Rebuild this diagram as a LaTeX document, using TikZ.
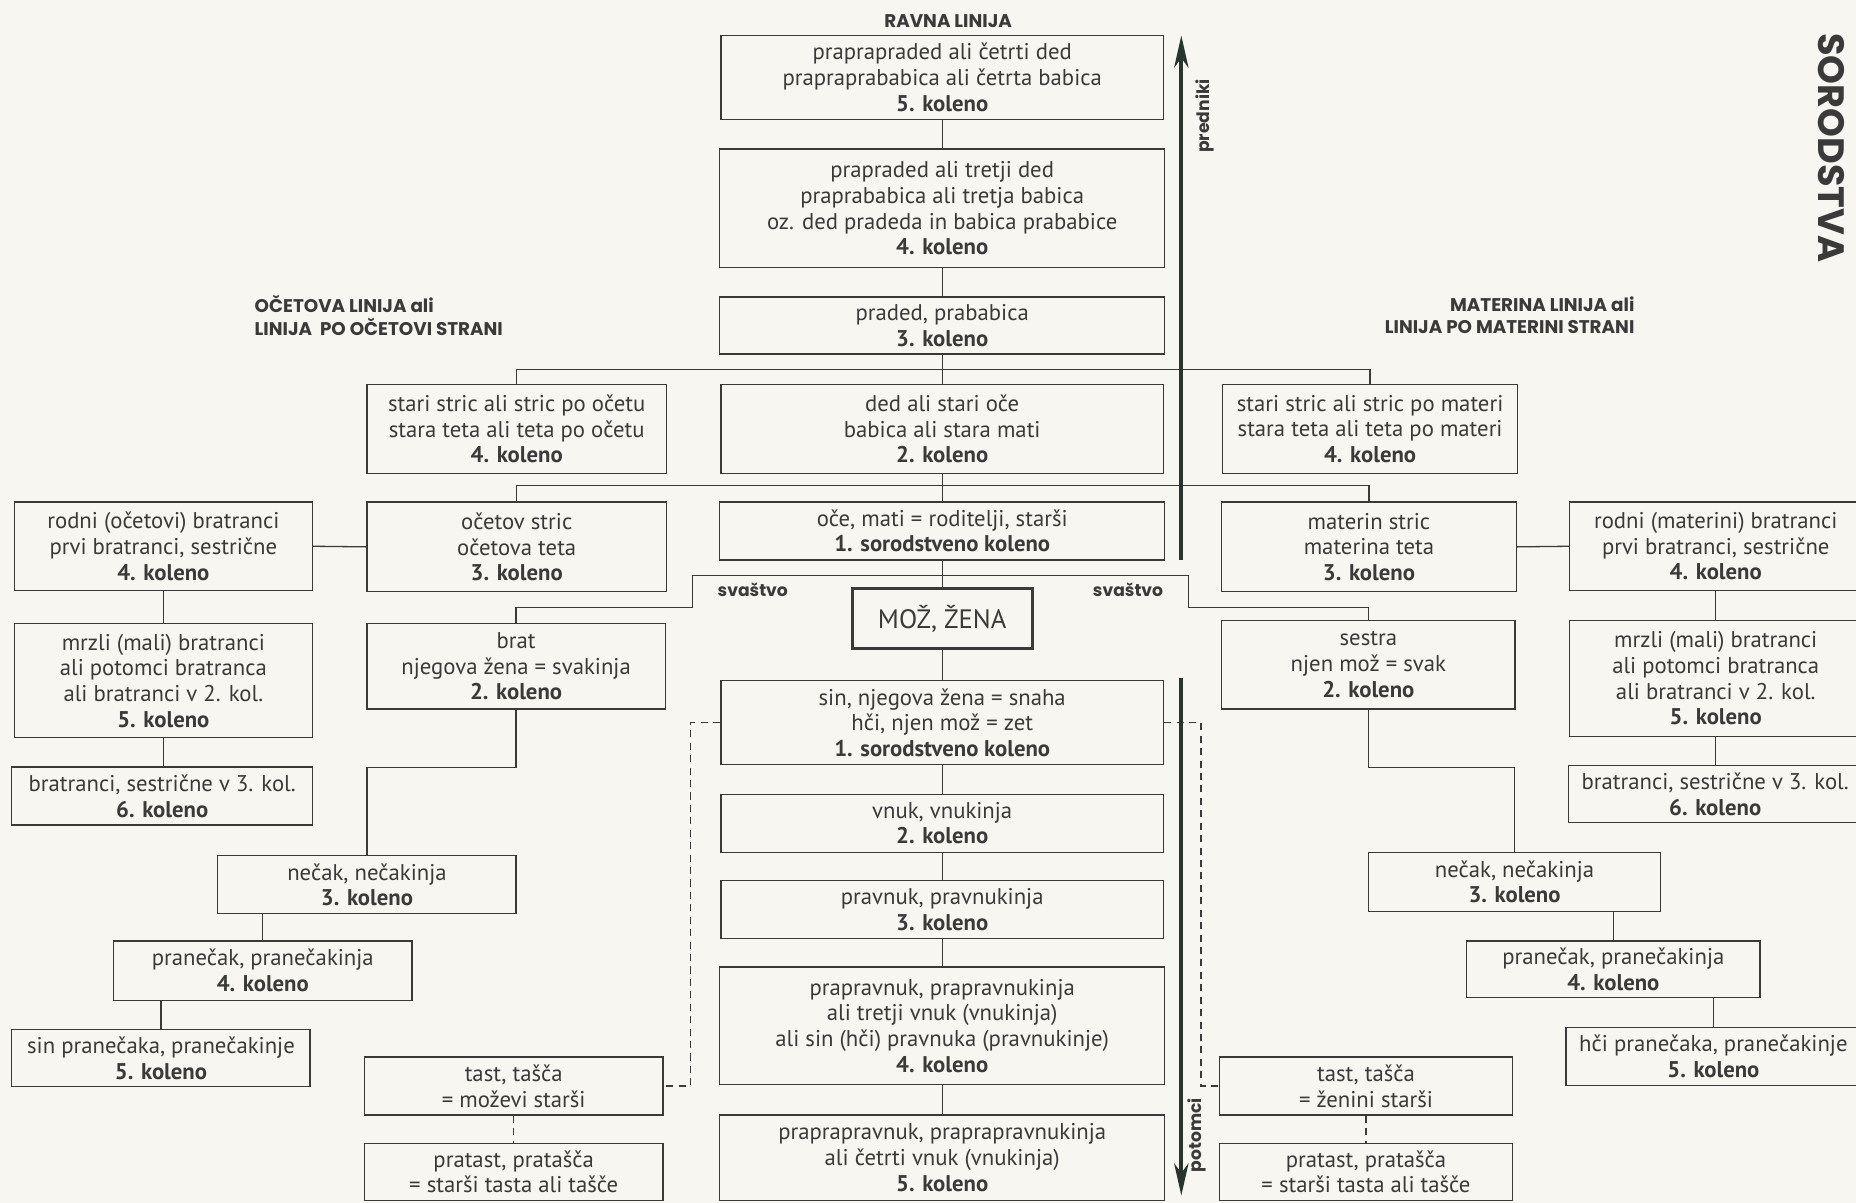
\documentclass[tikz,border=0pt]{standalone}
\usepackage{fontspec}
\setmainfont{PT Sans}
\newfontfamily\hdfont{Poppins}
\usetikzlibrary{arrows.meta}
\definecolor{bg}{HTML}{F7F6F0}
\definecolor{ink}{HTML}{3A3A3A}
\definecolor{arr}{HTML}{26352D}
\tikzset{
 kbox/.style={draw=ink, line width=1.1pt, inner sep=0pt, align=center, text=ink, font=\fontsize{19.2}{21.7}\selectfont},
 conn/.style={draw=ink, line width=1.1pt},
 dconn/.style={draw=ink, line width=1.1pt, dash pattern=on 6pt off 4.5pt},
 hd/.style={text=ink, font=\hdfont\bfseries\fontsize{15.5}{18}\selectfont, inner sep=0pt},
 sv/.style={text=ink, font=\hdfont\bfseries\fontsize{14.5}{16}\selectfont, inner sep=0pt},
 ttl/.style={text=ink, font=\hdfont\bfseries\fontsize{31}{34}\selectfont, inner sep=0pt},
 bigarr/.style={draw=arr, line width=3.6pt, -{Stealth[length=27pt,width=12pt,inset=8pt]}},
}
\newcommand\kb[6]{\node[kbox, minimum width={(#4)-(#2)}, minimum height={(#5)-(#3)}] (#1) at ({((#2)+(#4))/2},{((#3)+(#5))/2}) {#6};}
\begin{document}
\begin{tikzpicture}[x=1pt,y=-1pt]
\fill[bg] (0,0) rectangle (1568,1016);
\useasboundingbox (0,0) rectangle (1568,1016);
\clip (0,0) rectangle (1568,1016);

% central column
\kb{A5}{609}{30}{983}{101}{praprapraded ali četrti ded\\prapraprababica ali četrta babica\\\textbf{5. koleno}}
\kb{A4}{608}{126}{984}{226}{prapraded ali tretji ded\\praprababica ali tretja babica\\oz. ded pradeda in babica prababice\\\textbf{4. koleno}}
\kb{A3}{608}{251}{984}{299}{praded, prababica\\\textbf{3. koleno}}
\kb{A2}{609}{325}{983}{400}{ded ali stari oče\\babica ali stara mati\\\textbf{2. koleno}}
\kb{A1}{608}{424}{984}{473}{oče, mati = roditelji, starši\\\textbf{1. sorodstveno koleno}}
\node[kbox, line width=2.6pt, font=\fontsize{22.5}{24}\selectfont, minimum width=152, minimum height=51] (MZ) at (796,522.5) {MOŽ, ŽENA};
\kb{D1}{609}{575}{983}{646}{sin, njegova žena = snaha\\hči, njen mož = zet\\\textbf{1. sorodstveno koleno}}
\kb{D2}{609}{671}{983}{720}{vnuk, vnukinja\\\textbf{2. koleno}}
\kb{D3}{609}{744}{983}{793}{pravnuk, pravnukinja\\\textbf{3. koleno}}
\kb{D4}{608}{817}{984}{916}{prapravnuk, prapravnukinja\\ali tretji vnuk (vnukinja)\\ali sin (hči) pravnuka (pravnukinje)\\\textbf{4. koleno}}
\kb{D5}{608}{942}{984}{1014}{praprapravnuk, praprapravnukinja\\ali četrti vnuk (vnukinja)\\\textbf{5. koleno}}

% father's side
\kb{Lstric}{310}{325}{563}{400}{stari stric ali stric po očetu\\stara teta ali teta po očetu\\\textbf{4. koleno}}
\kb{Loce}{310}{424}{563}{500}{očetov stric\\očetova teta\\\textbf{3. koleno}}
\kb{brat}{310}{527}{562}{599}{brat\\njegova žena = svakinja\\\textbf{2. koleno}}
\kb{LL1}{12}{424}{264}{499}{rodni (očetovi) bratranci\\prvi bratranci, sestrične\\\textbf{4. koleno}}
\kb{LL2}{12}{527}{264}{623}{mrzli (mali) bratranci\\ali potomci bratranca\\ali bratranci v 2. kol.\\\textbf{5. koleno}}
\kb{LL3}{10}{648}{264}{697}{bratranci, sestrične v 3. kol.\\\textbf{6. koleno}}
\kb{Lnec}{184}{723}{436}{772}{nečak, nečakinja\\\textbf{3. koleno}}
\kb{Lpran}{96}{795}{348}{845}{pranečak, pranečakinja\\\textbf{4. koleno}}
\kb{Lsin}{10}{870}{262}{918}{sin pranečaka, pranečakinje\\\textbf{5. koleno}}
\kb{Ltast}{308}{893}{560}{942}{tast, tašča\\= moževi starši}
\kb{Lpratast}{308}{966}{560}{1014}{pratast, pratašča\\= starši tasta ali tašče}

% mother's side
\kb{Rstric}{1033}{325}{1282}{400}{stari stric ali stric po materi\\stara teta ali teta po materi\\\textbf{4. koleno}}
\kb{Rmat}{1032}{424}{1281}{500}{materin stric\\materina teta\\\textbf{3. koleno}}
\kb{sestra}{1032}{524}{1280}{599}{sestra\\njen mož = svak\\\textbf{2. koleno}}
\kb{RR1}{1326}{424}{1573}{499}{rodni (materini) bratranci\\prvi bratranci, sestrične\\\textbf{4. koleno}}
\kb{RR2}{1326}{524}{1573}{622}{mrzli (mali) bratranci\\ali potomci bratranca\\ali bratranci v 2. kol.\\\textbf{5. koleno}}
\kb{RR3}{1325}{647}{1573}{695}{bratranci, sestrične v 3. kol.\\\textbf{6. koleno}}
\kb{Rnec}{1156}{720}{1403}{770}{nečak, nečakinja\\\textbf{3. koleno}}
\kb{Rpran}{1239}{795}{1487}{843}{pranečak, pranečakinja\\\textbf{4. koleno}}
\kb{Rhci}{1323}{868}{1572}{917}{hči pranečaka, pranečakinje\\\textbf{5. koleno}}
\kb{Rtast}{1030}{893}{1278}{942}{tast, tašča\\= ženini starši}
\kb{Rpratast}{1030}{966}{1278}{1014}{pratast, pratašča\\= starši tasta ali tašče}

% central connectors
\foreach \a/\b in {A5/A4,A4/A3,A3/A2,A2/A1,A1/MZ,MZ/D1,D1/D2,D2/D3,D3/D4,D4/D5}
  \draw[conn] (\a.south) -- (\b.north);

% branches
\draw[conn] (Lstric.north) -- ++(0,-12) -| (Rstric.north);
\draw[conn] (Loce.north) -- ++(0,-13) -| (Rmat.north);
\coordinate (svL) at (585,486);
\coordinate (svR) at (1004,486);
\draw[conn] (brat.north) |- (585,513) -- (svL) -- (svR) -- (1004,513) -| (sestra.north);

\draw[conn] (LL1.east) -- (Loce.west);
\draw[conn] (Rmat.east) -- (RR1.west);
\draw[conn] (LL1.south) -- (LL1.south |- LL2.north);
\draw[conn] (LL2.south) -- (LL2.south |- LL3.north);
\draw[conn] (RR1.south) -- (RR1.south |- RR2.north);
\draw[conn] (RR2.south) -- (RR2.south |- RR3.north);

\draw[conn] (brat.south) -- ++(0,49) -| (Lnec.north);
\draw[conn] (sestra.south) -- ++(0,49) -| (Rnec.north);
\draw[conn] (Lpran.north |- Lnec.south) -- (Lpran.north);
\draw[conn] (Lsin.north |- Lpran.south) -- (Lsin.north);
\draw[conn] (Rpran.north |- Rnec.south) -- (Rpran.north);
\draw[conn] (Rhci.north |- Rpran.south) -- (Rhci.north);

% in-law dashed connectors
\draw[dconn] (D1.west) -- ++(-25,0) |- (Ltast.east);
\draw[dconn] (D1.east) -- ++(31,0) |- (Rtast.west);
\draw[dconn] (Ltast.south) -- (Lpratast.north);
\draw[dconn] (Rtast.south) -- (Rpratast.north);

% direction arrows
\coordinate (pBot) at (998,473);
\coordinate (pTop) at (998,30);
\coordinate (cTop) at (998,573);
\coordinate (cBot) at (998,1010);
\draw[bigarr] (pBot) -- (pTop);
\draw[bigarr] (cTop) -- (cBot);
\node[sv, rotate=90] (predLbl) at (1018,98) {predniki};
\node[sv, rotate=90] (potLbl) at (1011,959) {potomci};

% labels
\node[hd] (ravna) at (801,18) {RAVNA LINIJA};
\node[hd, anchor=west] (ocL1) at (215,257) {OČETOVA LINIJA ali};
\node[hd, anchor=west] (ocL2) at (215,276) {LINIJA\ \ PO OČETOVI STRANI};
\node[hd, anchor=east] (maL1) at (1381,257) {MATERINA LINIJA ali};
\node[hd, anchor=east] (maL2) at (1381,276) {LINIJA PO MATERINI STRANI};
\node[sv] (svlab1) at (636,498) {svaštvo};
\node[sv] (svlab2) at (953,498) {svaštvo};

% title
\node[ttl, rotate=-90, anchor=west] (t2) at (1547,28) {SORODSTVA};
\node[ttl, rotate=-90, anchor=west] (t1) at (1583,28) {STOPNJE};
\end{tikzpicture}
\end{document}
